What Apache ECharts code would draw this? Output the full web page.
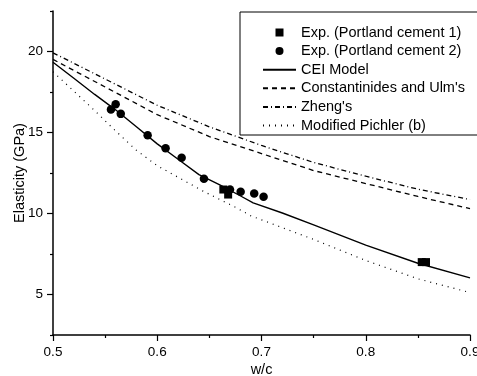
<!DOCTYPE html>
<html>
<head>
<meta charset="utf-8">
<script src="https://cdn.jsdelivr.net/npm/echarts@6/dist/echarts.min.js"></script>
<style>html,body{margin:0;padding:0;background:#fff}#c{width:477px;height:376px}</style>
</head>
<body>
<div id="c"></div>
<script>
const seriesNames = ["Exp. (Portland cement 1)", "Exp. (Portland cement 2)", "CEI Model", "Constantinides and Ulm's", "Zheng's", "Modified Pichler (b)"];
const exp1 = [[0.6634, 11.48], [0.668, 11.17], [0.8537, 7.0], [0.8578, 7.0]];
const exp2 = [[0.5556, 16.42], [0.5601, 16.75], [0.565, 16.15], [0.5908, 14.83], [0.608, 14.03], [0.6234, 13.44], [0.6448, 12.14], [0.6698, 11.48], [0.680, 11.34], [0.693, 11.23], [0.702, 11.03]];
const cei = [[0.50, 19.34], [0.52, 18.35], [0.54, 17.35], [0.56, 16.4], [0.58, 15.35], [0.60, 14.3], [0.62, 13.35], [0.64, 12.4], [0.66, 11.76], [0.68, 11.08], [0.692, 10.66], [0.72, 10.03], [0.75, 9.3], [0.80, 8.05], [0.85, 6.93], [0.90, 6.03]];
const constUlm = [[0.50, 19.51], [0.55, 17.81], [0.60, 16.1], [0.65, 14.75], [0.70, 13.7], [0.75, 12.65], [0.80, 11.85], [0.85, 11.05], [0.90, 10.3]];
const zheng = [[0.50, 19.92], [0.55, 18.3], [0.60, 16.68], [0.65, 15.35], [0.70, 14.2], [0.75, 13.15], [0.80, 12.3], [0.85, 11.5], [0.90, 10.86]];
const pichler = [[0.50, 18.75], [0.52, 17.55], [0.54, 16.35], [0.56, 15.1], [0.58, 13.9], [0.60, 12.95], [0.644, 11.38], [0.676, 10.35], [0.69, 9.85], [0.75, 8.4], [0.80, 7.1], [0.85, 5.97], [0.90, 5.12]];
const yMajorTicks = [5, 10, 15, 20];
const yMinorTicks = [2.5, 7.5, 12.5, 17.5, 22.5];

const font = 'Liberation Sans, Arial, sans-serif';
const chart = echarts.init(document.getElementById('c'), null, {renderer: 'canvas'});
const lineBase = {type: 'line', symbol: 'none', showSymbol: false, silent: true, z: 3};
const hiddenSym = {opacity: 0};
chart.setOption({
  animation: false,
  grid: {left: 53, right: 7, top: 11, bottom: 41, containLabel: false, outerBoundsMode: 'none'},
  legend: {
    left: 240, top: 12, orient: 'vertical',
    backgroundColor: '#fff', borderColor: '#000', borderWidth: 1, borderRadius: 0,
    padding: [13, 14, 2, 22],
    itemWidth: 33, itemHeight: 8, itemGap: 3.6,
    textStyle: {fontFamily: font, fontSize: 14.5, color: '#000', lineHeight: 14},
    selectedMode: false,
    data: [
      {name: seriesNames[0], icon: 'path://M0,0L10,0L10,10L0,10Z', itemStyle: {color: '#000', opacity: 1}},
      {name: seriesNames[1], icon: 'circle', itemStyle: {color: '#000', opacity: 1}},
      {name: seriesNames[2], itemStyle: hiddenSym},
      {name: seriesNames[3], itemStyle: hiddenSym},
      {name: seriesNames[4], itemStyle: hiddenSym},
      {name: seriesNames[5], itemStyle: hiddenSym}
    ]
  },
  xAxis: {
    type: 'value', min: 0.5, max: 0.9, interval: 0.1,
    name: 'w/c', nameLocation: 'middle', nameGap: 27, nameMoveOverlap: false,
    nameTextStyle: {fontFamily: font, fontSize: 14.5, color: '#000'},
    axisLine: {show: true, lineStyle: {color: '#000', width: 1.5}},
    axisTick: {show: true, length: 6, lineStyle: {color: '#000', width: 1.2}},
    minorTick: {show: true, splitNumber: 2, length: 3, lineStyle: {color: '#000', width: 1.2}},
    axisLabel: {fontFamily: font, fontSize: 13.5, color: '#000', margin: 10,
      formatter: v => String(Math.round(v * 10) / 10)},
    splitLine: {show: false}
  },
  yAxis: [{
    type: 'value', min: 2.5, max: 22.5, interval: 2.5,
    name: 'Elasticity (GPa)', nameLocation: 'middle', nameGap: 26, nameMoveOverlap: false,
    nameTextStyle: {fontFamily: font, fontSize: 14.5, color: '#000'},
    axisLine: {show: true, lineStyle: {color: '#000', width: 1.5}},
    axisTick: {show: true, length: 6, customValues: yMajorTicks, lineStyle: {color: '#000', width: 1.2}},
    axisLabel: {fontFamily: font, fontSize: 13.5, color: '#000', margin: 10, customValues: yMajorTicks},
    splitLine: {show: false}
  }, {
    type: 'value', min: 2.5, max: 22.5, interval: 2.5, position: 'left',
    axisLine: {show: false},
    axisTick: {show: true, length: 3, customValues: yMinorTicks, lineStyle: {color: '#000', width: 1.2}},
    axisLabel: {show: false},
    splitLine: {show: false}
  }],
  series: [
    {name: seriesNames[0], type: 'scatter', data: exp1, symbol: 'rect', symbolSize: 8, itemStyle: {color: '#000', opacity: 1}, z: 5},
    {name: seriesNames[1], type: 'scatter', data: exp2, symbol: 'circle', symbolSize: 8.5, itemStyle: {color: '#000', opacity: 1}, z: 5},
    Object.assign({}, lineBase, {name: seriesNames[2], data: cei, lineStyle: {color: '#000', width: 1.4, type: 'solid'}, itemStyle: {color: '#000'}}),
    Object.assign({}, lineBase, {name: seriesNames[3], data: constUlm, lineStyle: {color: '#000', width: 1.3, type: [5, 4]}, itemStyle: {color: '#000'}}),
    Object.assign({}, lineBase, {name: seriesNames[4], data: zheng, lineStyle: {color: '#000', width: 1.3, type: [5, 3, 1, 3]}, itemStyle: {color: '#000'}}),
    Object.assign({}, lineBase, {name: seriesNames[5], data: pichler, lineStyle: {color: '#000', width: 1.2, type: [1, 5]}, itemStyle: {color: '#000'}})
  ]
});
</script>
</body>
</html>
